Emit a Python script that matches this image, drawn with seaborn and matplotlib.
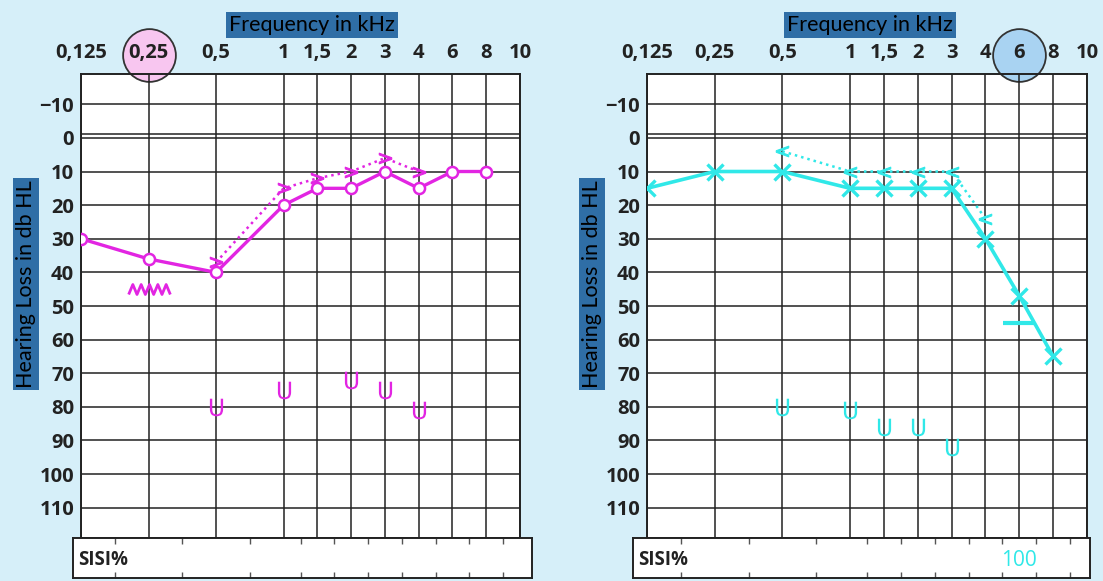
import numpy as np
import pandas as pd
import matplotlib
matplotlib.use("Agg")
import matplotlib.pyplot as plt
import matplotlib.transforms as mtransforms
from matplotlib.path import Path
import seaborn as sns

# audiogram values (kHz / dB HL)
freqs = [0.125, 0.25, 0.5, 1, 1.5, 2, 3, 4, 6, 8]
tick_freqs = [0.125, 0.25, 0.5, 1, 1.5, 2, 3, 4, 6, 8, 10]
tick_labels = ["0,125", "0,25", "0,5", "1", "1,5", "2", "3", "4", "6", "8", "10"]
db_ticks = [-10, 0, 10, 20, 30, 40, 50, 60, 70, 80, 90, 100, 110]

left_air = [30, 36, 40, 20, 15, 15, 10, 15, 10, 10]
left_bone_freq = [0.5, 1, 1.5, 2, 3, 4]
left_bone = [37, 15, 12, 10, 6, 10]
left_ucl_freq = [0.5, 1, 2, 3, 4]
left_ucl = [80, 75, 72, 75, 81]
left_noise_freq = [0.25]
left_noise = [45]
left_circled = 0.25

right_air = [15, 10, 10, 15, 15, 15, 15, 30, 47, 65]
right_bone_freq = [0.5, 1, 1.5, 2, 3, 4]
right_bone = [4, 10, 10, 10, 10, 24]
right_ucl_freq = [0.5, 1, 1.5, 2, 3]
right_ucl = [80, 81, 86, 86, 92]
right_bar_freq = [6]
right_bar = [55]
right_circled = 6
right_sisi_freq = [6]
right_sisi = ["100"]

MAGENTA = "#e225e2"
CYAN = "#30e8e8"
BOXBLUE = "#2f6ea6"
BG = "#d6eff9"
INK = "#222222"

# audiogram frequency axis: octaves with half-octave steps
scale_f = [0.0625, 0.125, 0.25, 0.5, 1, 1.5, 2, 3, 4, 6, 8, 10, 20]
scale_p = [-2, 0, 2, 4, 6, 7, 8, 9, 10, 11, 12, 13, 15]
def fwd(x):
    return np.interp(x, scale_f, scale_p)
def inv(p):
    return np.interp(p, scale_p, scale_f)

sns.set_style("white")
plt.rcParams["font.family"] = ["Open Sans", "DejaVu Sans"]

W, H = 1103, 581
fig = plt.figure(figsize=(W / 100, H / 100), dpi=100, facecolor=BG)

def px(x0, y0, x1, y1):
    return [x0 / W, 1 - y1 / H, (x1 - x0) / W, (y1 - y0) / H]

# masking-noise symbol (zigzag)
zigzag = Path([(-1 + 0.2 * i, 0.24 if i % 2 else -0.24) for i in range(11)])


def audiogram(ax, circled, circle_fc):
    ax.set_xscale("function", functions=(fwd, inv))
    ax.set_xlim(0.125, 10)
    ax.set_ylim(119, -19)
    ax.set_facecolor("white")
    ax.set_axisbelow(True)
    ax.xaxis.tick_top()
    ax.set_xticks(tick_freqs)
    ax.set_xticklabels(tick_labels)
    ax.set_yticks(db_ticks)
    ax.set_yticklabels([str(v).replace("-", "\u2212") for v in db_ticks])
    ax.tick_params(axis="x", length=0, pad=8, labelsize=14.5, labelcolor=INK)
    ax.tick_params(axis="y", length=0, pad=5, labelsize=14.5, labelcolor=INK)
    for lab in ax.get_xticklabels() + ax.get_yticklabels():
        lab.set_fontweight("bold")
    ax.grid(True, color=INK, lw=1.1)
    ax.axhline(-1.2, color=INK, lw=1.1, zorder=0.6)
    for s in ax.spines.values():
        s.set_color(INK)
        s.set_linewidth(1.4)
    tr = mtransforms.blended_transform_factory(ax.transData, ax.transAxes)
    ax.plot([circled], [1.04], transform=tr, marker="o", ms=38, mfc=circle_fc,
            mec="#333333", mew=1.3, clip_on=False, zorder=0.1)


def sisi_box(ax, lo, hi, texts_x, texts, color):
    ax.set_xscale("function", functions=(fwd, inv))
    ax.set_xlim(inv(lo), inv(hi))
    ax.set_ylim(0, 1)
    ax.set_facecolor("white")
    ax.set_xticks(inv(np.array([1, 3, 5, 6.5, 7.5, 8.5, 9.5, 10.5, 11.5, 12.5])))
    ax.set_yticks([])
    ax.tick_params(axis="x", direction="in", top=True, bottom=True, length=4,
                   width=1, color="#555555", labelbottom=False, labeltop=False)
    for s in ax.spines.values():
        s.set_color(INK)
        s.set_linewidth(1.4)
    ax.text(0.012, 0.45, "SISI%", transform=ax.transAxes, ha="left", va="center",
            fontsize=13.5, fontweight="bold", color=INK)
    for xv, t in zip(texts_x, texts):
        ax.text(xv, 0.45, t, ha="center", va="center", fontsize=15, color=color)


# ---- left ear ----
axL = fig.add_axes(px(81, 74, 520, 538))
audiogram(axL, left_circled, "#f8c6f0")
sns.lineplot(x=freqs, y=left_air, ax=axL, color=MAGENTA, lw=2.4, marker="o",
             ms=8, mfc="white", mec=MAGENTA, mew=1.8, zorder=4)
sns.lineplot(x=left_bone_freq, y=left_bone, ax=axL, color=MAGENTA, lw=1.8,
             ls=(0, (1, 1.6)), marker="$>$", ms=9, mec=MAGENTA, mfc=MAGENTA, zorder=3)
sns.lineplot(x=left_noise_freq, y=left_noise, ax=axL, lw=0, marker=zigzag, ms=30,
             mfc="none", mec=MAGENTA, mew=2, zorder=3)
sns.scatterplot(x=left_ucl_freq, y=left_ucl, ax=axL, marker=r"$\mathsf{U}$", s=160,
                color=MAGENTA, linewidth=0, zorder=4)
axL.set_xlim(0.125, 10)
axL.set_ylim(119, -19)

sL = fig.add_axes(px(73, 538, 532, 578))
sisi_box(sL, -8 / 33.77, 13 + 12 / 33.77, [], [], MAGENTA)

# ---- right ear ----
axR = fig.add_axes(px(647, 74, 1087, 538))
audiogram(axR, right_circled, "#a9d3f2")
sns.lineplot(x=freqs, y=right_air, ax=axR, color=CYAN, lw=2.6, marker="x",
             ms=11, mec=CYAN, mew=2.4, zorder=4)
sns.lineplot(x=right_bone_freq, y=right_bone, ax=axR, color=CYAN, lw=1.8,
             ls=(0, (1, 1.6)), marker="$<$", ms=9, mec=CYAN, mfc=CYAN, zorder=3)
sns.lineplot(x=right_bar_freq, y=right_bar, ax=axR, lw=0, marker="_", ms=23,
             mec=CYAN, mew=3, zorder=3)
sns.scatterplot(x=right_ucl_freq, y=right_ucl, ax=axR, marker=r"$\mathsf{U}$", s=160,
                color=CYAN, linewidth=0, zorder=4)
axR.set_xlim(0.125, 10)
axR.set_ylim(119, -19)

sR = fig.add_axes(px(633, 538, 1090, 578))
sisi_box(sR, -14 / 33.85, 13 + 3 / 33.85, right_sisi_freq, right_sisi, CYAN)

# ---- boxed labels ----
box = dict(boxstyle="square,pad=0.12", fc=BOXBLUE, ec="none")
for cx in (312 / W, 870 / W):
    fig.text(cx, 1 - 25 / H, "Frequency in kHz", ha="center", va="center",
             fontsize=15.5, color="black", family=["Lato", "DejaVu Sans"], bbox=box)
for cx in (26 / W, 592 / W):
    fig.text(cx, 1 - 284 / H, "Hearing Loss in db HL", ha="center", va="center",
             rotation=90, fontsize=15.5, color="black", family=["Lato", "DejaVu Sans"],
             bbox=box)

fig.savefig("out.png", dpi=100, facecolor=BG)
